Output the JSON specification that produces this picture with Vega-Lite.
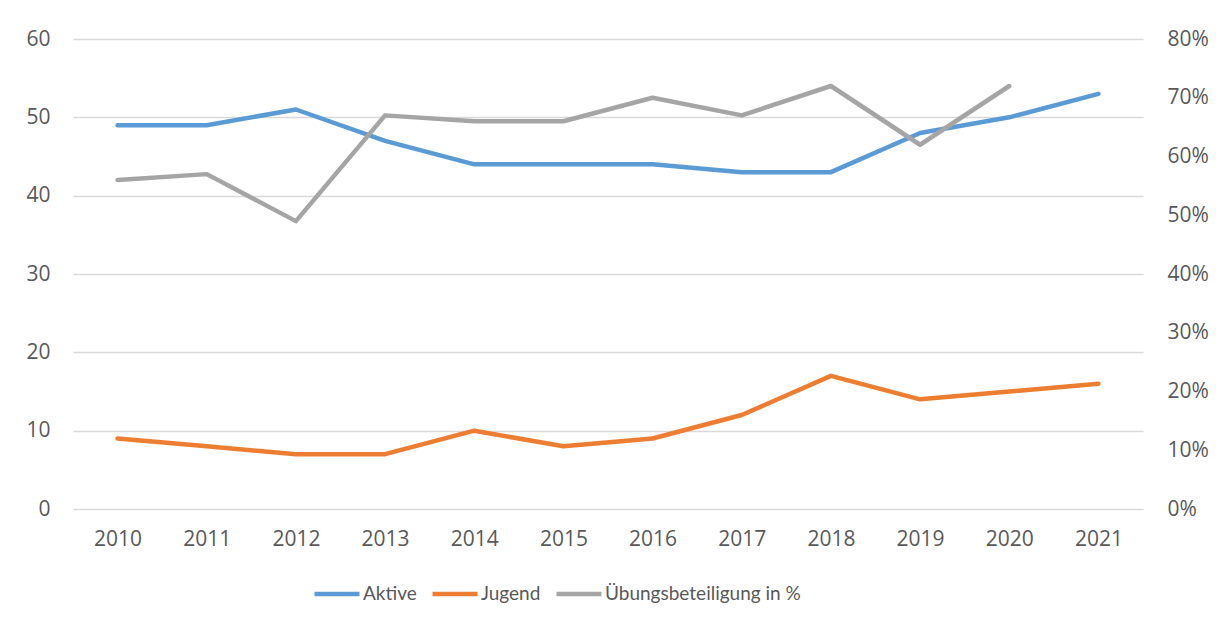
{
  "$schema": "https://vega.github.io/schema/vega-lite/v6.json",
  "width": 1070,
  "height": 470,
  "autosize": {"type": "none"},
  "padding": {"left": 73, "top": 39, "right": 79, "bottom": 113},
  "background": "white",
  "config": {
    "view": {"stroke": null},
    "font": "Open Sans",
    "axis": {"labelFont": "Open Sans", "labelFontSize": 21, "labelColor": "#595959", "domain": false, "ticks": false, "title": null},
    "legend": {"labelFont": "Lato", "labelFontSize": 19, "labelColor": "#595959", "labelLimit": 0}
  },
  "data": {
    "values": [
      {"year": "2010", "series": "Aktive", "value": 49},
      {"year": "2011", "series": "Aktive", "value": 49},
      {"year": "2012", "series": "Aktive", "value": 51},
      {"year": "2013", "series": "Aktive", "value": 47},
      {"year": "2014", "series": "Aktive", "value": 44},
      {"year": "2015", "series": "Aktive", "value": 44},
      {"year": "2016", "series": "Aktive", "value": 44},
      {"year": "2017", "series": "Aktive", "value": 43},
      {"year": "2018", "series": "Aktive", "value": 43},
      {"year": "2019", "series": "Aktive", "value": 48},
      {"year": "2020", "series": "Aktive", "value": 50},
      {"year": "2021", "series": "Aktive", "value": 53},
      {"year": "2010", "series": "Jugend", "value": 9},
      {"year": "2011", "series": "Jugend", "value": 8},
      {"year": "2012", "series": "Jugend", "value": 7},
      {"year": "2013", "series": "Jugend", "value": 7},
      {"year": "2014", "series": "Jugend", "value": 10},
      {"year": "2015", "series": "Jugend", "value": 8},
      {"year": "2016", "series": "Jugend", "value": 9},
      {"year": "2017", "series": "Jugend", "value": 12},
      {"year": "2018", "series": "Jugend", "value": 17},
      {"year": "2019", "series": "Jugend", "value": 14},
      {"year": "2020", "series": "Jugend", "value": 15},
      {"year": "2021", "series": "Jugend", "value": 16},
      {"year": "2010", "series": "Übungsbeteiligung in %", "value": 0.56},
      {"year": "2011", "series": "Übungsbeteiligung in %", "value": 0.57},
      {"year": "2012", "series": "Übungsbeteiligung in %", "value": 0.49},
      {"year": "2013", "series": "Übungsbeteiligung in %", "value": 0.67},
      {"year": "2014", "series": "Übungsbeteiligung in %", "value": 0.66},
      {"year": "2015", "series": "Übungsbeteiligung in %", "value": 0.66},
      {"year": "2016", "series": "Übungsbeteiligung in %", "value": 0.70},
      {"year": "2017", "series": "Übungsbeteiligung in %", "value": 0.67},
      {"year": "2018", "series": "Übungsbeteiligung in %", "value": 0.72},
      {"year": "2019", "series": "Übungsbeteiligung in %", "value": 0.62},
      {"year": "2020", "series": "Übungsbeteiligung in %", "value": 0.72}
    ]
  },
  "encoding": {
    "x": {
      "field": "year", "type": "ordinal",
      "scale": {"type": "point", "padding": 0.5},
      "axis": {"labelAngle": 0, "labelPadding": 19, "grid": false}
    },
    "color": {
      "field": "series", "type": "nominal",
      "scale": {"domain": ["Aktive", "Jugend", "Übungsbeteiligung in %"], "range": ["#5B9BD5", "#ED7D31", "#A5A5A5"]},
      "legend": {
        "title": null, "orient": "none", "direction": "horizontal",
        "legendX": 239, "legendY": 530,
        "symbolType": "stroke", "symbolSize": 2025, "symbolStrokeWidth": 4.5,
        "labelOffset": 1, "columnPadding": 6
      }
    }
  },
  "layer": [
    {
      "transform": [{"filter": "datum.series !== 'Übungsbeteiligung in %'"}],
      "mark": {"type": "line", "strokeWidth": 4.5, "strokeCap": "round", "strokeJoin": "round"},
      "encoding": {
        "y": {
          "field": "value", "type": "quantitative",
          "scale": {"domain": [0, 60], "nice": false},
          "axis": {"values": [0, 10, 20, 30, 40, 50, 60], "orient": "left", "labelPadding": 23, "grid": true, "gridColor": "#D9D9D9", "gridWidth": 1.3}
        }
      }
    },
    {
      "transform": [{"filter": "datum.series === 'Übungsbeteiligung in %'"}],
      "mark": {"type": "line", "strokeWidth": 4.5, "strokeCap": "round", "strokeJoin": "round"},
      "encoding": {
        "y": {
          "field": "value", "type": "quantitative",
          "scale": {"domain": [0, 0.8], "nice": false},
          "axis": {"values": [0, 0.1, 0.2, 0.3, 0.4, 0.5, 0.6, 0.7, 0.8], "format": ".0%", "orient": "right", "labelPadding": 24, "labelAlign": "left", "grid": false}
        }
      }
    }
  ],
  "resolve": {"scale": {"y": "independent"}}
}
